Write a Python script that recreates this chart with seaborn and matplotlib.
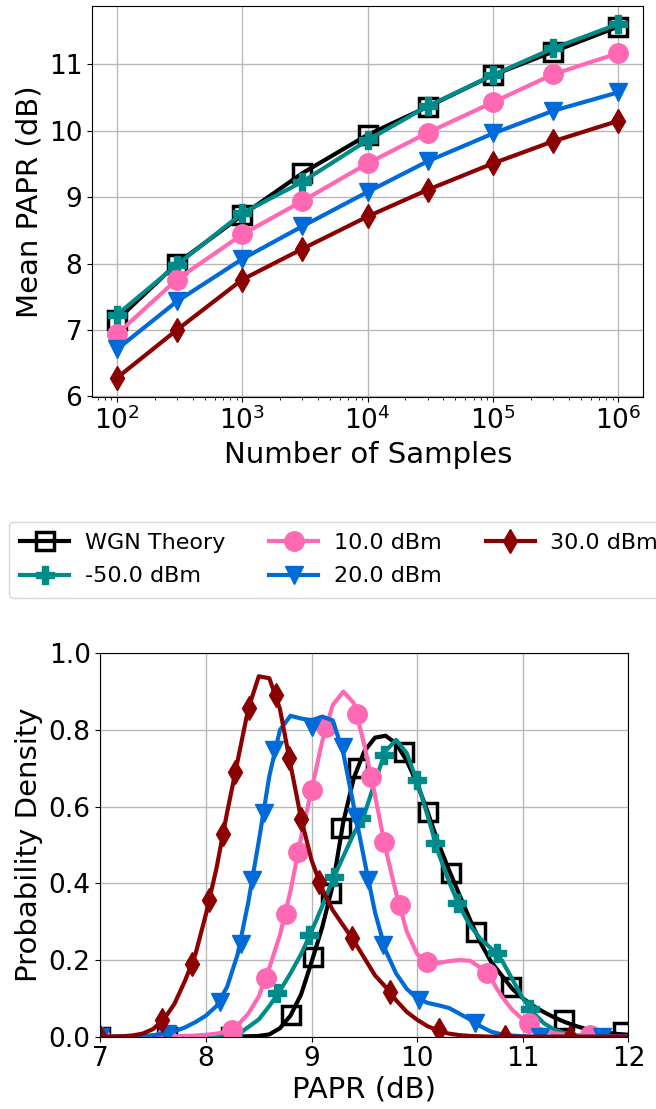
import numpy as np
import matplotlib
matplotlib.use("Agg")
import matplotlib.pyplot as plt
import seaborn as sns

# ---- top panel: mean PAPR vs number of samples ----
n_samples = [1e2, 3e2, 1e3, 3e3, 1e4, 3e4, 1e5, 3e5, 1e6]
papr_wgn = [7.15, 8.00, 8.73, 9.36, 9.94, 10.36, 10.84, 11.19, 11.57]
papr_m50 = [7.23, 7.98, 8.76, 9.23, 9.86, 10.37, 10.84, 11.24, 11.61]
papr_10 = [6.94, 7.76, 8.44, 8.94, 9.51, 9.97, 10.43, 10.85, 11.17]
papr_20 = [6.71, 7.43, 8.07, 8.56, 9.08, 9.54, 9.96, 10.30, 10.58]
papr_30 = [6.28, 7.00, 7.76, 8.22, 8.71, 9.11, 9.51, 9.84, 10.15]

# ---- bottom panel: PAPR density curves ----
papr_db = [7.0, 7.1, 7.2, 7.3, 7.4, 7.5, 7.6, 7.7, 7.8, 7.9,
           8.0, 8.1, 8.2, 8.3, 8.4, 8.5, 8.6, 8.7, 8.8, 8.9,
           9.0, 9.1, 9.2, 9.3, 9.4, 9.5, 9.6, 9.7, 9.8, 9.9,
           10.0, 10.1, 10.2, 10.3, 10.4, 10.5, 10.6, 10.7, 10.8, 10.9,
           11.0, 11.1, 11.2, 11.3, 11.4, 11.5, 11.6, 11.7, 11.8, 11.9, 12.0]
pdf_wgn = [0, 0, 0, 0, 0, 0, 0, 0, 0, 0,
           0, 0, 0, 0.001, 0.001, 0.002, 0.006, 0.022, 0.055, 0.11,
           0.195, 0.285, 0.395, 0.56, 0.675, 0.745, 0.78, 0.785, 0.765, 0.72,
           0.66, 0.585, 0.505, 0.435, 0.37, 0.305, 0.245, 0.195, 0.16, 0.125,
           0.10, 0.08, 0.064, 0.05, 0.038, 0.028, 0.02, 0.014, 0.01, 0.007, 0.005]
pdf_m50 = [0, 0, 0, 0, 0, 0, 0, 0, 0, 0,
           0, 0, 0, 0.005, 0.025, 0.045, 0.08, 0.12, 0.165, 0.215,
           0.275, 0.34, 0.41, 0.47, 0.53, 0.58, 0.665, 0.745, 0.774, 0.74,
           0.665, 0.575, 0.48, 0.405, 0.34, 0.29, 0.255, 0.23, 0.20, 0.15,
           0.10, 0.062, 0.035, 0.018, 0.009, 0.004, 0.002, 0.001, 0, 0, 0]
pdf_10 = [0, 0, 0, 0, 0, 0, 0, 0.001, 0.002, 0.003,
          0.005, 0.008, 0.013, 0.03, 0.06, 0.105, 0.18, 0.265, 0.38, 0.52,
          0.645, 0.77, 0.865, 0.90, 0.87, 0.76, 0.63, 0.49, 0.375, 0.275,
          0.215, 0.195, 0.192, 0.197, 0.20, 0.198, 0.18, 0.15, 0.105, 0.07,
          0.045, 0.028, 0.016, 0.009, 0.005, 0.003, 0.002, 0.001, 0, 0, 0]
pdf_20 = [0, 0, 0, 0.001, 0.002, 0.004, 0.008, 0.014, 0.024, 0.038,
          0.055, 0.08, 0.13, 0.215, 0.35, 0.51, 0.68, 0.80, 0.837, 0.83,
          0.825, 0.835, 0.825, 0.74, 0.60, 0.46, 0.325, 0.225, 0.165, 0.125,
          0.10, 0.088, 0.082, 0.075, 0.06, 0.045, 0.027, 0.013, 0.006, 0.003,
          0.001, 0, 0, 0, 0, 0, 0, 0, 0, 0, 0]
pdf_30 = [0, 0, 0.001, 0.003, 0.008, 0.02, 0.045, 0.085, 0.145, 0.215,
          0.32, 0.44, 0.585, 0.72, 0.855, 0.94, 0.935, 0.855, 0.71, 0.57,
          0.46, 0.385, 0.33, 0.29, 0.25, 0.205, 0.16, 0.13, 0.095, 0.065,
          0.044, 0.027, 0.016, 0.008, 0.004, 0.002, 0.001, 0, 0, 0,
          0, 0, 0, 0, 0, 0, 0, 0, 0, 0, 0]

# marker positions along each density curve
mk_x_wgn = [7.0, 7.63, 8.235, 8.807, 9.015, 9.184, 9.28, 9.438, 9.872,
            10.098, 10.316, 10.554, 10.89, 11.39, 11.945]
mk_y_wgn = [0.0, 0.0, 0.0, 0.057, 0.209, 0.374, 0.544, 0.70, 0.743,
            0.587, 0.426, 0.274, 0.13, 0.044, 0.013]
mk_x_m50 = [7.0, 7.63, 8.26, 8.676, 8.98, 9.216, 9.464, 9.69, 10.0,
            10.17, 10.38, 10.756, 11.069, 11.68]
mk_y_m50 = [0.0, 0.0, 0.008, 0.113, 0.265, 0.417, 0.57, 0.735, 0.67,
            0.504, 0.348, 0.217, 0.072, 0.0]
mk_x_10 = [7.0, 7.62, 8.248, 8.565, 8.755, 8.87, 9.0, 9.14, 9.43,
           9.567, 9.686, 9.833, 10.09, 10.665, 11.06, 11.635]
mk_y_10 = [0.0, 0.0, 0.017, 0.152, 0.32, 0.483, 0.643, 0.809, 0.843,
           0.678, 0.509, 0.343, 0.196, 0.167, 0.037, 0.005]
mk_x_20 = [7.0, 7.63, 8.129, 8.327, 8.434, 8.545, 8.644, 9.0, 9.3,
           9.417, 9.536, 9.676, 10.02, 10.546, 11.16, 11.75]
mk_y_20 = [0.0, 0.008, 0.091, 0.243, 0.409, 0.583, 0.748, 0.809, 0.755,
           0.574, 0.409, 0.24, 0.097, 0.035, 0.0, 0.0]
mk_x_30 = [7.0, 7.586, 7.864, 8.03, 8.16, 8.276, 8.403, 8.665, 8.784,
           8.90, 9.069, 9.386, 9.74, 10.21, 10.83, 11.45]
mk_y_30 = [0.0, 0.044, 0.19, 0.357, 0.529, 0.69, 0.857, 0.89, 0.728,
           0.567, 0.403, 0.257, 0.117, 0.017, 0.0, 0.0]

labels = ["WGN Theory", "-50.0 dBm", "10.0 dBm", "20.0 dBm", "30.0 dBm"]
colors = ["black", "#008B8B", "#FF69B4", "#006AD8", "#8B0000"]
markers = ["s", "P", "o", "v", "d"]
msizes = [13, 13, 14, 13, 12]
top_series = [papr_wgn, papr_m50, papr_10, papr_20, papr_30]
bot_series = [pdf_wgn, pdf_m50, pdf_10, pdf_20, pdf_30]
mk_xs = [mk_x_wgn, mk_x_m50, mk_x_10, mk_x_20, mk_x_30]
mk_ys = [mk_y_wgn, mk_y_m50, mk_y_10, mk_y_20, mk_y_30]

fig = plt.figure(figsize=(6.56, 11.09), dpi=100)
ax1 = fig.add_axes([0.1402, 0.642, 0.8407, 0.3526])
ax2 = fig.add_axes([0.153, 0.0652, 0.805, 0.3457])

for i in range(5):
    face = "none" if markers[i] == "s" else colors[i]
    mstyle = dict(marker=markers[i], markersize=msizes[i],
                  markerfacecolor=face, markeredgecolor=colors[i],
                  markeredgewidth=2.5 if markers[i] == "s" else 1.0)
    sns.lineplot(x=n_samples, y=top_series[i], ax=ax1, label=labels[i],
                 color=colors[i], linewidth=3, errorbar=None, legend=False,
                 **mstyle)
    sns.lineplot(x=papr_db, y=bot_series[i], ax=ax2, color=colors[i],
                 linewidth=3, errorbar=None, legend=False)
    sns.lineplot(x=mk_xs[i], y=mk_ys[i], ax=ax2, color=colors[i],
                 linestyle="none", errorbar=None, legend=False, **mstyle)

ax1.set_xscale("log")
ax1.set_ylim(5.99, 11.88)
ax1.set_yticks([6, 7, 8, 9, 10, 11])
ax1.set_xlabel("Number of Samples", fontsize=21)
ax1.set_ylabel("Mean PAPR (dB)", fontsize=21)

ax2.set_xlim(7, 12)
ax2.set_ylim(0, 1)
ax2.set_xticks([7, 8, 9, 10, 11, 12])
ax2.set_yticks([0.0, 0.2, 0.4, 0.6, 0.8, 1.0])
ax2.set_xlabel("PAPR (dB)", fontsize=21, labelpad=2)
ax2.set_ylabel("Probability Density", fontsize=21)

for ax in (ax1, ax2):
    ax.grid(True, which="major", color="#b8b8b8", linewidth=1.0)
    ax.tick_params(axis="both", which="major", labelsize=19)

h, l = ax1.get_legend_handles_labels()
fig.legend(h, l, loc="upper left", bbox_to_anchor=(9 / 656, 1 - 522 / 1109),
           ncol=3, fontsize=16, handlelength=2.2, borderaxespad=0,
           columnspacing=2.0, handletextpad=0.7, labelspacing=0.6,
           borderpad=0.5)

fig.savefig("out.png", dpi=100)
